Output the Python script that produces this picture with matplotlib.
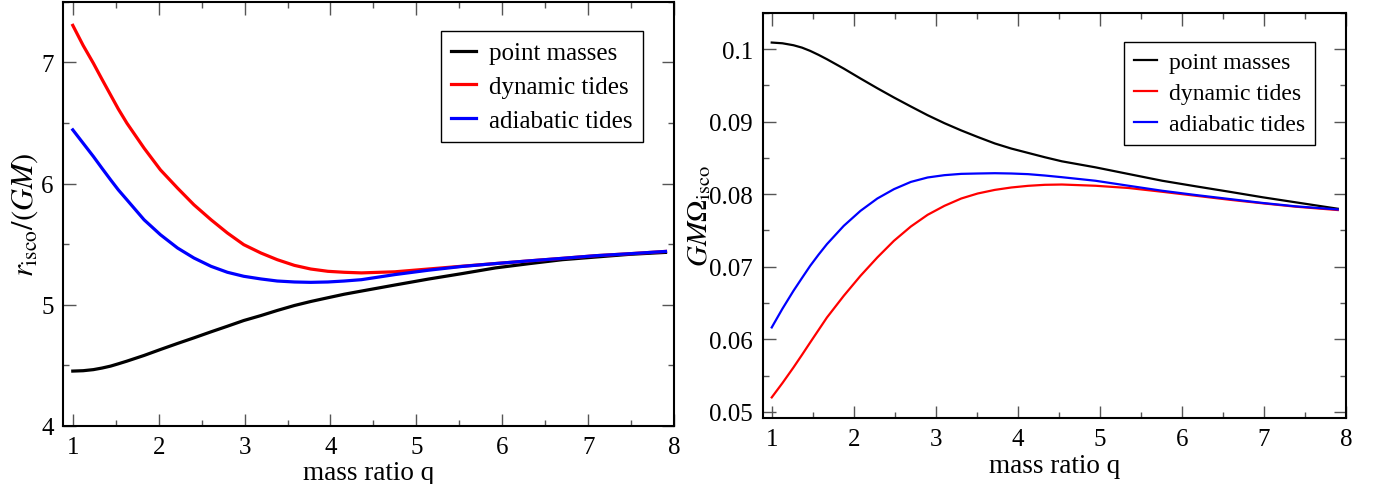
import numpy as np
import matplotlib
matplotlib.use('Agg')
import matplotlib.pyplot as plt
from matplotlib import ticker

plt.rcParams['font.family'] = ['Liberation Serif', 'DejaVu Serif']
plt.rcParams['mathtext.fontset'] = 'stix'

# ---- data ----
q_left = [1.0, 1.12, 1.24, 1.34, 1.44, 1.53, 1.63, 1.83, 2.02, 2.22, 2.41, 2.61, 2.8, 2.99, 3.19, 3.38,
          3.58, 3.77, 3.97, 4.16, 4.36, 4.75, 5.14, 5.53, 5.92, 6.31, 6.70, 7.09, 7.48, 7.90]
r_point = [4.453, 4.456, 4.465, 4.478, 4.494, 4.513, 4.535, 4.582, 4.631, 4.681, 4.727, 4.777, 4.823,
           4.870, 4.911, 4.953, 4.994, 5.027, 5.058, 5.087, 5.113, 5.163, 5.212, 5.257, 5.304, 5.339,
           5.372, 5.394, 5.416, 5.432]
r_dynamic = [7.305, 7.140, 6.992, 6.860, 6.731, 6.615, 6.498, 6.292, 6.113, 5.962, 5.825, 5.701, 5.592,
             5.496, 5.427, 5.372, 5.325, 5.295, 5.276, 5.268, 5.263, 5.272, 5.295, 5.318, 5.340, 5.362,
             5.383, 5.405, 5.421, 5.440]
r_adiabatic = [6.443, 6.333, 6.223, 6.126, 6.031, 5.948, 5.866, 5.701, 5.578, 5.468, 5.386, 5.317, 5.268,
               5.235, 5.213, 5.196, 5.188, 5.185, 5.188, 5.196, 5.207, 5.249, 5.285, 5.316, 5.340, 5.362,
               5.383, 5.405, 5.421, 5.440]

q_right = [1.0, 1.13, 1.265, 1.369, 1.469, 1.571, 1.673, 1.878, 2.082, 2.287, 2.49, 2.696, 2.9, 3.105,
           3.31, 3.51, 3.72, 3.92, 4.125, 4.33, 4.537, 4.946, 5.35, 5.76, 6.17, 6.58, 6.99, 7.39, 7.90]
w_point = [0.10092, 0.10082, 0.10055, 0.10022, 0.09977, 0.09922, 0.09862, 0.09733, 0.09596, 0.09462,
           0.09334, 0.0921, 0.0909, 0.0898, 0.0888, 0.0879, 0.0870, 0.0863, 0.0857, 0.0851, 0.08454,
           0.08371, 0.08279, 0.08186, 0.08109, 0.08034, 0.07957, 0.07888, 0.0780]
w_dynamic = [0.05198, 0.05395, 0.05611, 0.05785, 0.05956, 0.06128, 0.0630, 0.06599, 0.06875, 0.07128,
             0.07358, 0.07555, 0.07716, 0.0784, 0.07941, 0.0801, 0.0806, 0.08093, 0.08116, 0.0813,
             0.08134, 0.08117, 0.08086, 0.08034, 0.07979, 0.07924, 0.07874, 0.07828, 0.07782]
w_adiabatic = [0.06163, 0.06420, 0.06668, 0.06845, 0.07013, 0.07167, 0.07312, 0.07564, 0.07771, 0.07941,
               0.0807, 0.0817, 0.08231, 0.08263, 0.08281, 0.08286, 0.0829, 0.08286, 0.08277, 0.08258,
               0.08235, 0.08186, 0.08117, 0.08048, 0.07989, 0.07934, 0.07879, 0.07833, 0.0779]

labels = ['point masses', 'dynamic tides', 'adiabatic tides']
colors = ['black', 'red', 'blue']

fig = plt.figure(figsize=(13.74, 4.85), dpi=100)
ax1 = fig.add_axes([0.0461, 0.1196, 0.4445, 0.8748])
ax2 = fig.add_axes([0.5551, 0.1355, 0.4245, 0.8357])


def style(ax):
    for s in ax.spines.values():
        s.set_linewidth(1.5)
    ax.tick_params(which='both', direction='in', top=True, right=True,
                   labelsize=18, pad=7, width=1.0, color='#555555')
    ax.tick_params(which='major', length=9)
    ax.tick_params(which='minor', length=4.5)
    ax.xaxis.set_major_locator(ticker.MultipleLocator(1))
    ax.xaxis.set_minor_locator(ticker.MultipleLocator(0.5))
    ax.set_xlabel('mass ratio q', fontsize=19.5, labelpad=2)


# left panel
for ys, c, lab in zip([r_point, r_dynamic, r_adiabatic], colors, labels):
    ax1.plot(q_left, ys, color=c, lw=2.3, label=lab)
ax1.set_xlim(0.89, 8.0)
ax1.set_ylim(4, 7.5)
ax1.yaxis.set_major_locator(ticker.MultipleLocator(1))
ax1.yaxis.set_minor_locator(ticker.MultipleLocator(0.5))
style(ax1)
ax1.set_ylabel(r'$r_{\rm isco}/(GM)$', fontsize=22, labelpad=1)
ax1.legend(loc='upper right', bbox_to_anchor=(0.949, 0.930), fontsize=18,
           fancybox=False, edgecolor='black', framealpha=1, handlelength=1.0,
           handletextpad=0.5, borderpad=0.42, labelspacing=0.45, borderaxespad=0)

# right panel
for ys, c, lab in zip([w_point, w_dynamic, w_adiabatic], colors, labels):
    ax2.plot(q_right, ys, color=c, lw=1.6, label=lab)
ax2.set_xlim(0.89, 8.0)
ax2.set_ylim(0.0491, 0.105)
ax2.yaxis.set_major_locator(ticker.MultipleLocator(0.01))
ax2.yaxis.set_minor_locator(ticker.MultipleLocator(0.005))
ax2.yaxis.set_major_formatter(ticker.FuncFormatter(lambda v, p: f'{v:g}'))
style(ax2)
ax2.set_ylabel(r'$GM\Omega_{\rm isco}$', fontsize=21, labelpad=-3)
ax2.legend(loc='upper right', bbox_to_anchor=(0.947, 0.929), fontsize=17,
           fancybox=False, edgecolor='black', framealpha=1, handlelength=1.0,
           handletextpad=0.5, borderpad=0.42, labelspacing=0.4, borderaxespad=0)

fig.savefig('out.png', dpi=100)
